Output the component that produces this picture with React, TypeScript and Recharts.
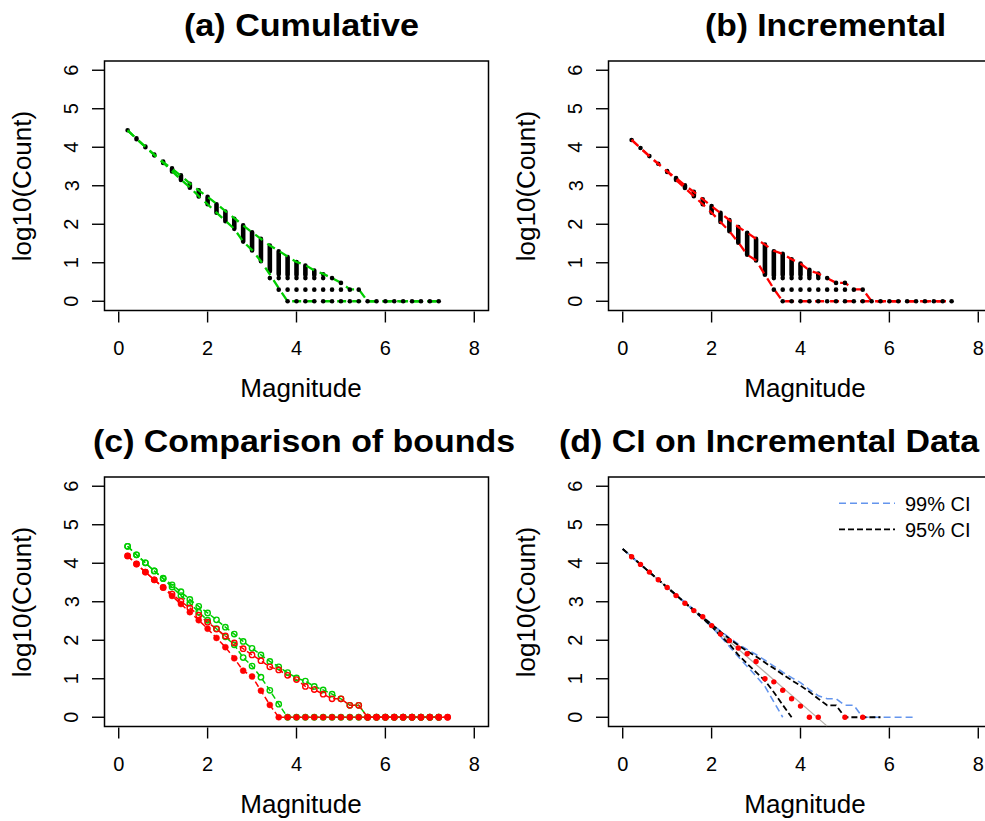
import React from 'react'
import { ComposedChart, Line, Scatter, XAxis, YAxis, ReferenceArea } from 'recharts'

const FONT = '"Liberation Sans", Arial, Helvetica, sans-serif'
const GREEN = '#00cd00'
const RED = '#ff0000'
const BLUE = '#6495ed'

const xTicks = [0, 2, 4, 6, 8]
const yTicks = [0, 1, 2, 3, 4, 5, 6]

// (a) cumulative counts, log10
const aMag = [0.2, 0.4, 0.6, 0.8, 1.0, 1.2, 1.4, 1.6, 1.8, 2.0, 2.2, 2.4, 2.6, 2.8, 3.0, 3.2, 3.4, 3.6, 3.8, 4.0, 4.2, 4.4, 4.6, 4.8, 5.0, 5.2, 5.4, 5.6, 5.8, 6.0, 6.2, 6.4, 6.6, 6.8, 7.0, 7.2]
const aUpper = [4.44, 4.22, 4.01, 3.8, 3.61, 3.44, 3.26, 3.06, 2.88, 2.71, 2.53, 2.34, 2.16, 1.97, 1.79, 1.62, 1.45, 1.31, 1.16, 1.02, 0.94, 0.8, 0.71, 0.6, 0.48, 0.31, 0.31, 0, 0, 0, 0, 0, 0, 0, 0, 0]
const aLower = [4.44, 4.22, 4.01, 3.8, 3.6, 3.38, 3.16, 2.96, 2.73, 2.52, 2.3, 2.09, 1.88, 1.55, 1.33, 1.04, 0.7, 0.34, 0, 0, 0, 0, 0, 0, 0, 0, 0, 0, 0, 0, 0, 0, 0, 0, 0, 0]
const aBandHi = [4.44, 4.23, 4.02, 3.81, 3.63, 3.45, 3.27, 3.05, 2.88, 2.71, 2.52, 2.33, 2.14, 1.97, 1.79, 1.62, 1.45, 1.3, 1.15, 1.02, 0.93, 0.8, 0.7, null, null, null, null, null, null, null, null, null, null, null, null, null]
const aBandLo = [4.44, 4.21, 4.0, 3.79, 3.59, 3.37, 3.15, 2.95, 2.72, 2.52, 2.3, 2.08, 1.88, 1.55, 1.32, 1.04, 0.78, 0.7, 0.68, 0.68, 0.68, 0.68, 0.7, null, null, null, null, null, null, null, null, null, null, null, null, null]
const aDotRows = [
  { y: 0.602, mags: [3.4, 3.6, 3.8, 4.0, 4.2, 4.4, 4.6, 4.8] },
  { y: 0.477, mags: [5.0] },
  { y: 0.301, mags: [3.6, 3.8, 4.0, 4.2, 4.4, 4.6, 4.8, 5.0, 5.2, 5.4] },
  { y: 0, mags: [3.8, 4.0, 4.2, 4.4, 4.6, 4.8, 5.0, 5.2, 5.4, 5.6, 5.8, 6.0, 6.2, 6.4, 6.6, 6.8, 7.0, 7.2] },
]

// (b) incremental counts, log10
const bMag = [0.2, 0.4, 0.6, 0.8, 1.0, 1.2, 1.4, 1.6, 1.8, 2.0, 2.2, 2.4, 2.6, 2.8, 3.0, 3.2, 3.4, 3.6, 3.8, 4.0, 4.2, 4.4, 4.6, 4.8, 5.0, 5.2, 5.4, 5.6, 5.8, 6.0, 6.2, 6.4, 6.6, 6.8, 7.0, 7.2, 7.4]
const bUpper = [4.19, 3.98, 3.77, 3.57, 3.37, 3.2, 3.01, 2.84, 2.65, 2.47, 2.29, 2.11, 1.93, 1.78, 1.62, 1.47, 1.31, 1.23, 1.09, 0.98, 0.8, 0.72, 0.6, 0.48, 0.48, 0.31, 0.31, 0, 0, 0, 0, 0, 0, 0, 0, 0, 0]
const bLower = [4.19, 3.98, 3.77, 3.57, 3.37, 3.15, 2.94, 2.73, 2.52, 2.3, 2.06, 1.82, 1.53, 1.21, 1.06, 0.69, 0.32, 0, 0, 0, 0, 0, 0, 0, 0, 0, 0, 0, 0, 0, 0, 0, 0, 0, 0, 0, 0]
const bBandHi = [4.19, 3.98, 3.77, 3.57, 3.38, 3.2, 3.01, 2.84, 2.65, 2.47, 2.3, 2.11, 1.93, 1.78, 1.62, 1.47, 1.3, 1.23, 1.09, 0.98, 0.82, 0.72, null, null, null, null, null, null, null, null, null, null, null, null, null, null, null]
const bBandLo = [4.19, 3.98, 3.77, 3.57, 3.36, 3.15, 2.94, 2.73, 2.52, 2.3, 2.06, 1.82, 1.52, 1.21, 1.06, 0.69, 0.66, 0.68, 0.68, 0.68, 0.66, 0.66, null, null, null, null, null, null, null, null, null, null, null, null, null, null, null]
const bDotRows = [
  { y: 0.602, mags: [3.4, 3.6, 3.8, 4.0, 4.2, 4.4, 4.6] },
  { y: 0.477, mags: [4.8, 5.0] },
  { y: 0.301, mags: [3.4, 3.6, 3.8, 4.0, 4.2, 4.4, 4.6, 4.8, 5.0, 5.2, 5.4] },
  { y: 0, mags: [3.6, 3.8, 4.0, 4.2, 4.4, 4.6, 4.8, 5.0, 5.2, 5.4, 5.6, 5.8, 6.0, 6.2, 6.4, 6.6, 6.8, 7.0, 7.2, 7.4] },
]

// (d) confidence intervals on incremental data
const dMag = [0, 0.2, 0.4, 0.6, 0.8, 1.0, 1.2, 1.4, 1.6, 1.8, 2.0, 2.2, 2.4, 2.6, 2.8, 3.0, 3.2, 3.4, 3.6, 3.8, 4.0, 4.2, 4.4, 4.6, 4.8, 5.0, 5.2, 5.4, 5.6, 5.8, 6.0, 6.2, 6.4, 6.6]
const dUp95 = [4.37, 4.17, 3.97, 3.77, 3.57, 3.38, 3.18, 2.98, 2.79, 2.6, 2.41, 2.22, 2.04, 1.87, 1.72, 1.58, 1.42, 1.27, 1.11, 0.96, 0.82, 0.66, 0.48, 0.31, 0.31, 0, 0, 0, 0, 0, null, null, null, null]
const dUp99 = [4.37, 4.17, 3.97, 3.77, 3.57, 3.38, 3.18, 2.99, 2.8, 2.61, 2.42, 2.24, 2.06, 1.9, 1.76, 1.63, 1.48, 1.33, 1.17, 1.03, 0.9, 0.72, 0.56, 0.48, 0.48, 0.31, 0.31, 0, 0, 0, 0, 0, 0, 0]
const dLo95 = [4.37, 4.17, 3.97, 3.77, 3.57, 3.37, 3.17, 2.97, 2.77, 2.57, 2.36, 2.12, 1.9, 1.62, 1.39, 1.17, 0.95, 0.65, 0.32, 0, null, null, null, null, null, null, null, null, null, null, null, null, null, null]
const dLo99 = [4.37, 4.17, 3.97, 3.77, 3.57, 3.37, 3.17, 2.97, 2.76, 2.56, 2.35, 2.1, 1.84, 1.57, 1.32, 1.07, 0.8, 0.4, 0, null, null, null, null, null, null, null, null, null, null, null, null, null, null, null]
const dObsMag = [0.2, 0.4, 0.6, 0.8, 1.0, 1.2, 1.4, 1.6, 1.8, 2.0, 2.2, 2.4, 2.6, 2.8, 3.0, 3.2, 3.4, 3.6, 3.8, 4.0, 4.2, 4.4, 5.0, 5.4]
const dObs = [4.17, 3.97, 3.77, 3.57, 3.37, 3.16, 2.96, 2.77, 2.61, 2.38, 2.16, 1.99, 1.8, 1.65, 1.45, 1.0, 0.92, 0.7, 0.48, 0.29, 0, 0, 0, 0]
const dFitMag = [0, 4.6]
const dFit = [4.37, -0.23]

// panel geometry (inside each 504x416 chart)
const PLOT_LEFT = 104.5

const rows = (ms: number[], ys: (number | null)[]) => ms.map((m, i) => ({ m, y: ys[i] }))

// each column becomes a zero-width segment lo -> hi, separated by a gap
const bandRows = (ms: number[], hi: (number | null)[], lo: (number | null)[]) =>
  ms.flatMap((m, i) => (hi[i] == null ? [] : [{ m, y: lo[i] }, { m, y: hi[i] }, { m, y: null }]))

const dotRows = (list: { y: number; mags: number[] }[]) =>
  list.flatMap((r) => r.mags.map((m) => ({ m, y: r.y })))

const XTick = (props: any) => {
  const { x, y, payload } = props
  return (
    <g>
      <line x1={x} x2={x} y1={y + 1} y2={y + 12} stroke="#000" strokeWidth={1.4} />
      <text x={x} y={y + 44.5} textAnchor="middle" fontSize={20} fontFamily={FONT} fill="#000">
        {payload.value}
      </text>
    </g>
  )
}

const YTick = (props: any) => {
  const { y, payload } = props
  const tx = PLOT_LEFT - 26
  return (
    <g>
      <line x1={PLOT_LEFT - 12.5} x2={PLOT_LEFT} y1={y} y2={y} stroke="#000" strokeWidth={1.4} />
      <text x={tx} y={y} transform={`rotate(-90 ${tx} ${y})`} textAnchor="middle" fontSize={20} fontFamily={FONT} fill="#000">
        {payload.value}
      </text>
    </g>
  )
}

const blackDot = (p: any) => <circle cx={p.cx} cy={p.cy} r={2.3} fill="#000" />
const redDot = (p: any) => <circle cx={p.cx} cy={p.cy} r={2.7} fill={RED} />

function Panel({ left, top, children }: { left: number; top: number; children: React.ReactNode }) {
  return (
    <div style={{ position: 'absolute', left, top }}>
      <ComposedChart width={504} height={416} margin={{ top: 61, right: 15.5, bottom: 45.5, left: 44.5 }}>
        <XAxis
          type="number"
          dataKey="m"
          domain={[-0.32, 8.32]}
          ticks={xTicks}
          interval={0}
          allowDataOverflow
          axisLine={false}
          tickLine={false}
          tickSize={0}
          tickMargin={0}
          height={60}
          tick={XTick}
        />
        <YAxis
          type="number"
          dataKey="y"
          domain={[-0.24, 6.24]}
          ticks={yTicks}
          interval={0}
          allowDataOverflow
          axisLine={false}
          tickLine={false}
          tickSize={0}
          tickMargin={0}
          width={60}
          tick={YTick}
        />
        {children}
        <ReferenceArea x1={-0.32} x2={8.32} y1={-0.24} y2={6.24} fill="none" stroke="#000" strokeWidth={1.5} ifOverflow="visible" />
      </ComposedChart>
    </div>
  )
}

const openCircle = (color: string) => ({ r: 2.7, fill: 'none', stroke: color, strokeWidth: 1.4, strokeDasharray: 'none' })

export default function App() {
  const titleStyle = { fontFamily: FONT, fontWeight: 700, fontSize: 31, fill: '#000' }
  const labelStyle = { fontFamily: FONT, fontSize: 26, fill: '#000' }
  return (
    <div style={{ position: 'absolute', left: 0, top: 0, width: 985, height: 821, overflow: 'hidden', background: '#fff' }}>
      <Panel left={0} top={0}>
        <Line data={bandRows(aMag, aBandHi, aBandLo)} dataKey="y" type="linear" stroke="#000" strokeWidth={4.6} strokeLinecap="round" dot={false} isAnimationActive={false} />
        <Scatter data={dotRows(aDotRows)} shape={blackDot} isAnimationActive={false} />
        <Line data={rows(aMag, aUpper)} dataKey="y" type="linear" stroke={GREEN} strokeWidth={2.3} strokeDasharray="9 6" dot={false} isAnimationActive={false} />
        <Line data={rows(aMag, aLower)} dataKey="y" type="linear" stroke={GREEN} strokeWidth={2.3} strokeDasharray="9 6" dot={false} isAnimationActive={false} />
      </Panel>

      <Panel left={504} top={0}>
        <Line data={bandRows(bMag, bBandHi, bBandLo)} dataKey="y" type="linear" stroke="#000" strokeWidth={4.6} strokeLinecap="round" dot={false} isAnimationActive={false} />
        <Scatter data={dotRows(bDotRows)} shape={blackDot} isAnimationActive={false} />
        <Line data={rows(bMag, bUpper)} dataKey="y" type="linear" stroke={RED} strokeWidth={2.3} strokeDasharray="9 6" dot={false} isAnimationActive={false} />
        <Line data={rows(bMag, bLower)} dataKey="y" type="linear" stroke={RED} strokeWidth={2.3} strokeDasharray="9 6" dot={false} isAnimationActive={false} />
      </Panel>

      <Panel left={0} top={416.3}>
        <Line data={rows(aMag, aUpper)} dataKey="y" type="linear" stroke={GREEN} strokeWidth={1.5} strokeDasharray="6 3" dot={openCircle(GREEN)} isAnimationActive={false} />
        <Line data={rows(aMag, aLower)} dataKey="y" type="linear" stroke={GREEN} strokeWidth={1.5} strokeDasharray="6 3" dot={openCircle(GREEN)} isAnimationActive={false} />
        <Line data={rows(bMag, bUpper)} dataKey="y" type="linear" stroke={RED} strokeWidth={1.5} strokeDasharray="6 3" dot={openCircle(RED)} isAnimationActive={false} />
        <Line data={rows(bMag, bLower)} dataKey="y" type="linear" stroke={RED} strokeWidth={1.5} strokeDasharray="6 3" dot={{ r: 3, fill: RED, stroke: RED, strokeWidth: 0.5, strokeDasharray: 'none' }} isAnimationActive={false} />
      </Panel>

      <Panel left={504} top={416.3}>
        <Line data={rows(dFitMag, dFit)} dataKey="y" type="linear" stroke="#b5b0aa" strokeWidth={1.2} dot={false} isAnimationActive={false} />
        <Line data={rows(dMag, dUp99)} dataKey="y" type="linear" stroke={BLUE} strokeWidth={1.6} strokeDasharray="7 4" dot={false} isAnimationActive={false} />
        <Line data={rows(dMag, dLo99)} dataKey="y" type="linear" stroke={BLUE} strokeWidth={1.6} strokeDasharray="7 4" dot={false} isAnimationActive={false} />
        <Line data={rows(dMag, dUp95)} dataKey="y" type="linear" stroke="#000" strokeWidth={1.8} strokeDasharray="6 3" dot={false} isAnimationActive={false} />
        <Line data={rows(dMag, dLo95)} dataKey="y" type="linear" stroke="#000" strokeWidth={1.8} strokeDasharray="6 3" dot={false} isAnimationActive={false} />
        <Scatter data={rows(dObsMag, dObs)} shape={redDot} isAnimationActive={false} />
      </Panel>

      <svg width={985} height={821} style={{ position: 'absolute', left: 0, top: 0, pointerEvents: 'none' }}>
        <text x={184} y={36} textLength={235} lengthAdjust="spacingAndGlyphs" style={titleStyle}>(a) Cumulative</text>
        <text x={705} y={36} textLength={241} lengthAdjust="spacingAndGlyphs" style={titleStyle}>(b) Incremental</text>
        <text x={93} y={452} textLength={422} lengthAdjust="spacingAndGlyphs" style={titleStyle}>(c) Comparison of bounds</text>
        <text x={559} y={452} textLength={420} lengthAdjust="spacingAndGlyphs" style={titleStyle}>(d) CI on Incremental Data</text>

        <text x={301} y={397} textAnchor="middle" style={labelStyle}>Magnitude</text>
        <text x={805} y={397} textAnchor="middle" style={labelStyle}>Magnitude</text>
        <text x={301} y={813} textAnchor="middle" style={labelStyle}>Magnitude</text>
        <text x={805} y={813} textAnchor="middle" style={labelStyle}>Magnitude</text>

        <text x={31} y={186} transform="rotate(-90 31 186)" textAnchor="middle" style={labelStyle}>log10(Count)</text>
        <text x={535} y={186} transform="rotate(-90 535 186)" textAnchor="middle" style={labelStyle}>log10(Count)</text>
        <text x={31} y={602} transform="rotate(-90 31 602)" textAnchor="middle" style={labelStyle}>log10(Count)</text>
        <text x={535} y={602} transform="rotate(-90 535 602)" textAnchor="middle" style={labelStyle}>log10(Count)</text>

        <line x1={839} x2={895} y1={503.3} y2={503.3} stroke={BLUE} strokeWidth={1.6} strokeDasharray="7 4" />
        <text x={905} y={511} fontFamily={FONT} fontSize={20} fill="#000">99% CI</text>
        <line x1={839} x2={895} y1={529.3} y2={529.3} stroke="#000" strokeWidth={1.8} strokeDasharray="6 3" />
        <text x={905} y={537} fontFamily={FONT} fontSize={20} fill="#000">95% CI</text>
      </svg>
    </div>
  )
}
